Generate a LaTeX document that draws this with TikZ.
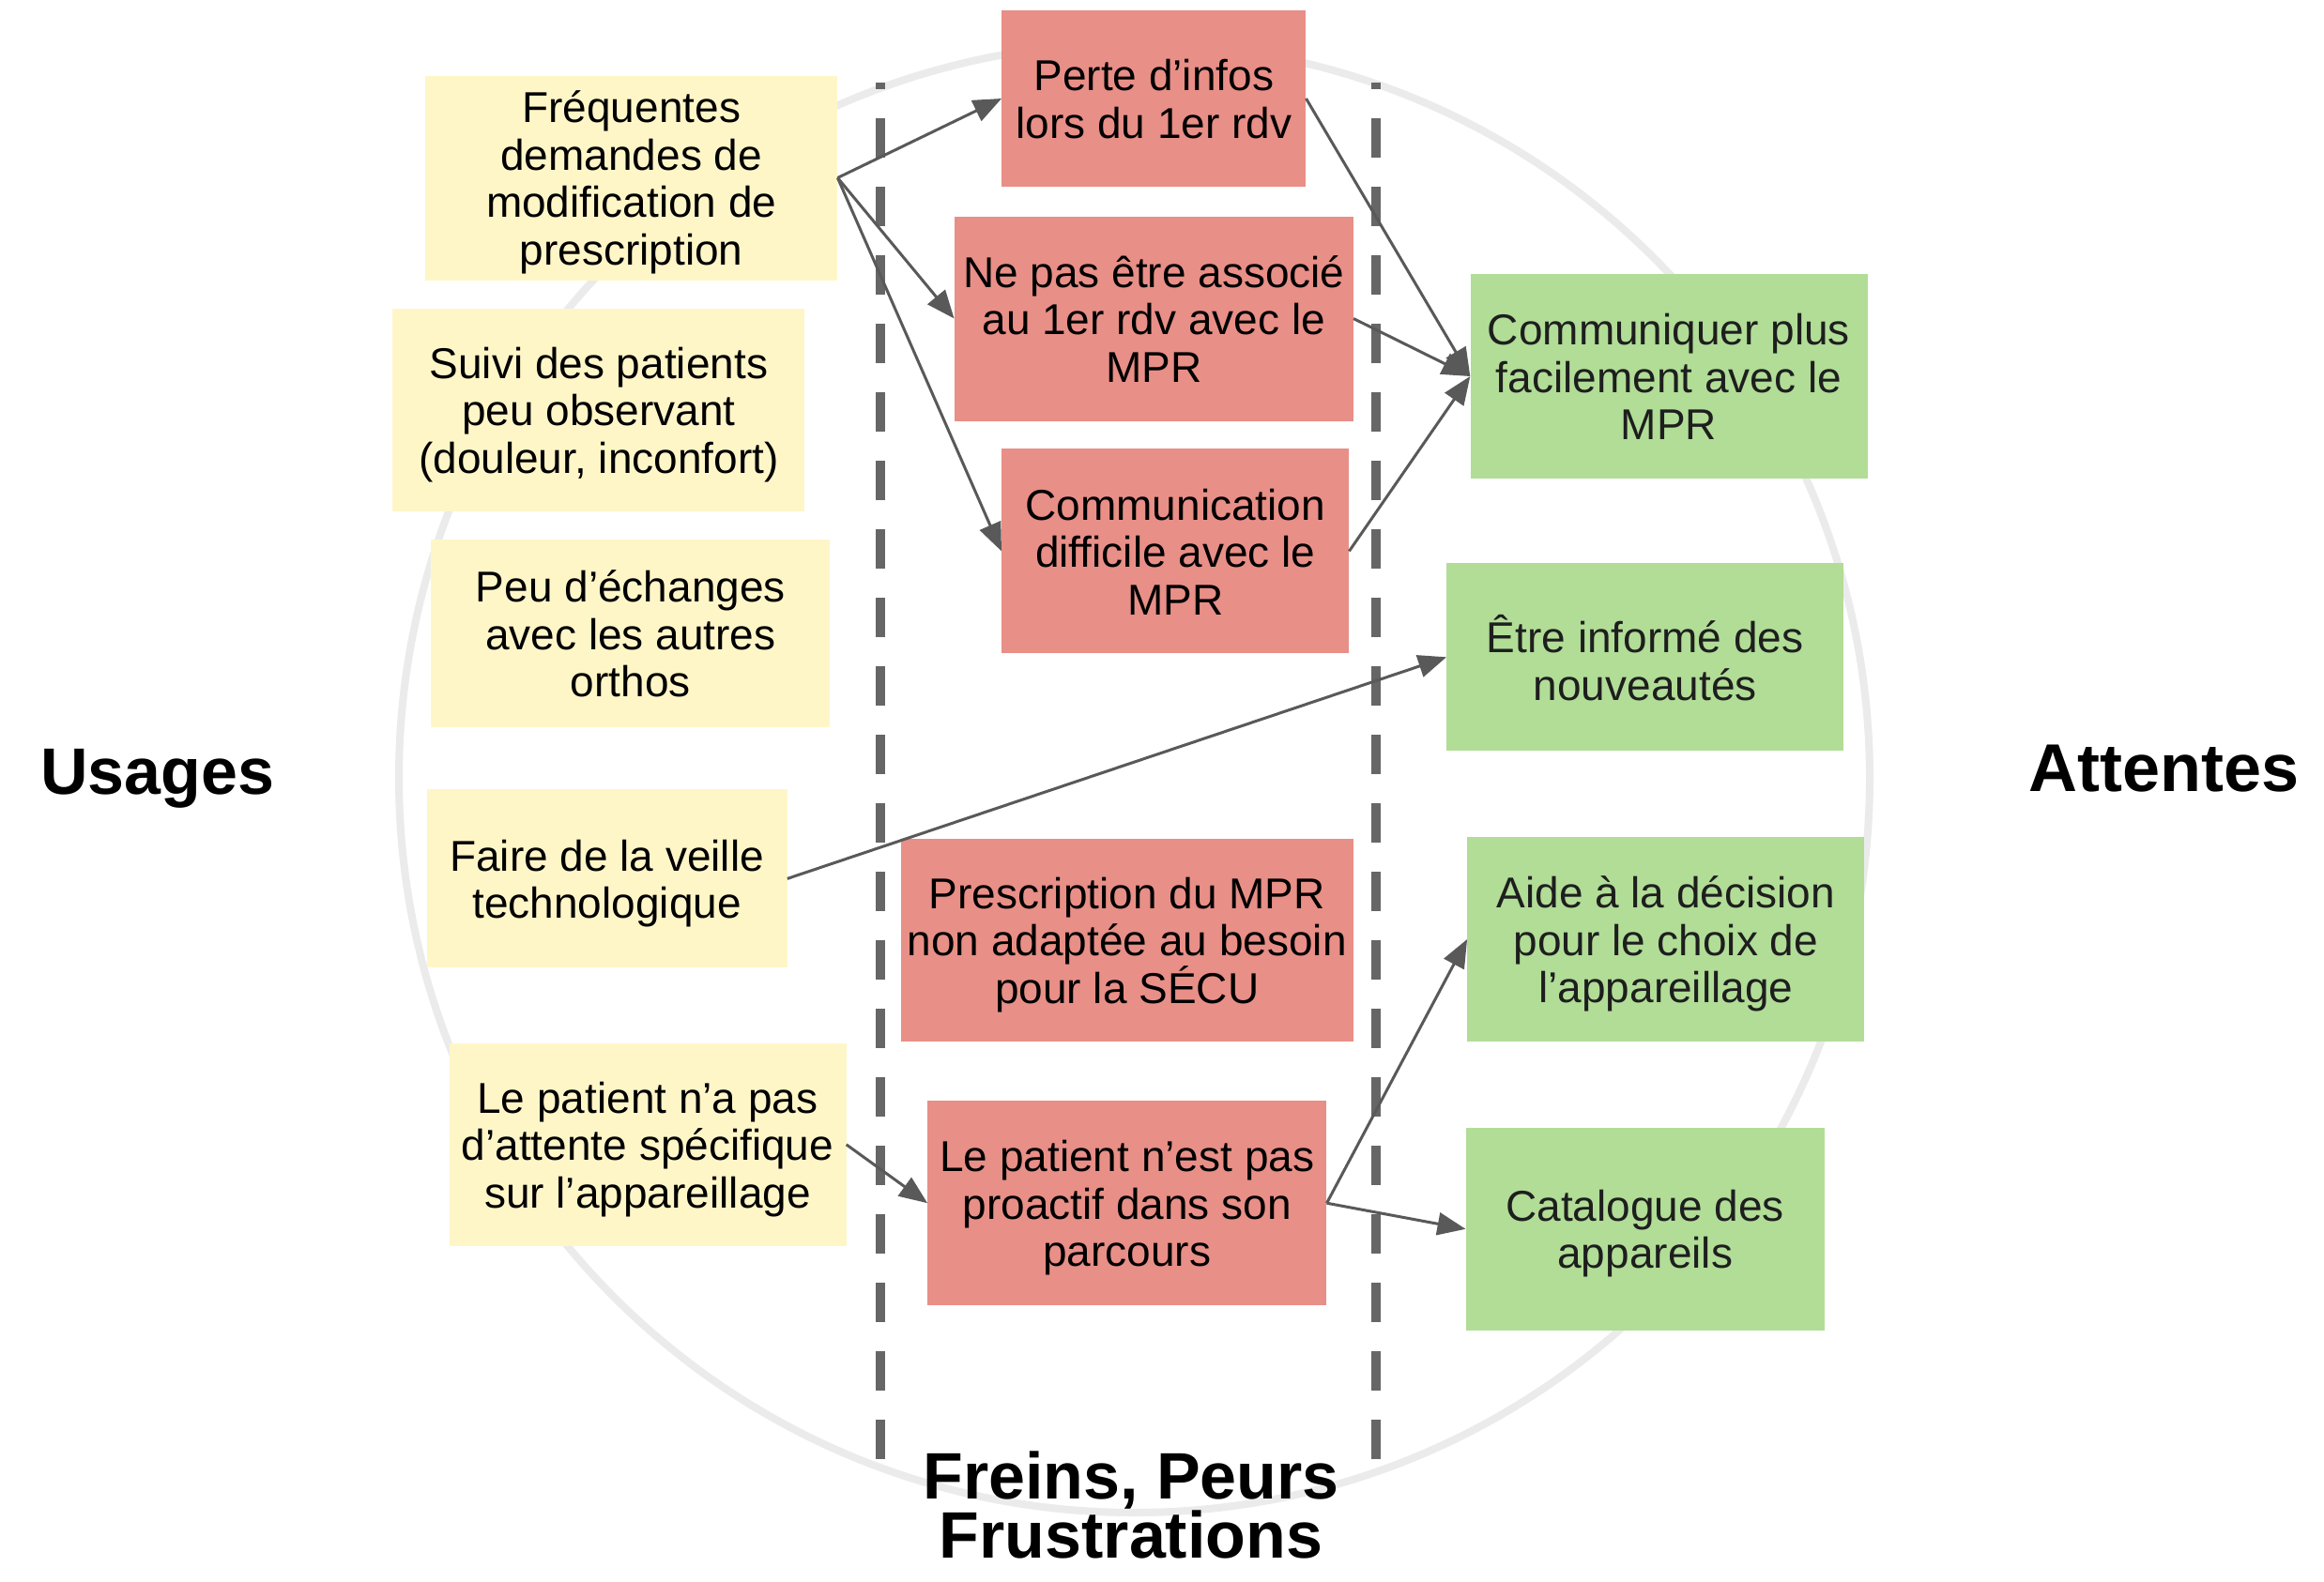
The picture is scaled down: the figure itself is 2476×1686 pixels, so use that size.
\documentclass[tikz,border=0pt]{standalone}
\usepackage{fontspec}
\setmainfont{Liberation Sans}
\usetikzlibrary{arrows.meta}
\definecolor{ybg}{HTML}{FFF6C8}
\definecolor{rbg}{HTML}{E88F87}
\definecolor{gbg}{HTML}{B1DD97}
\definecolor{gtext}{HTML}{1E1E1E}
\definecolor{arrowc}{HTML}{595959}
\definecolor{sepc}{HTML}{666666}
\definecolor{ringc}{HTML}{EBEBEB}
\newcommand{\topstrut}{\vrule width 0pt height 50.5pt depth 0pt}
\newcommand{\botstrut}{\vrule width 0pt height 0pt depth 9pt}
% #1 kind, #2 name, #3 x, #4 y, #5 width, #6 height, #7 text
\newcommand{\mkcard}[7]{%
  \node[#1, minimum width=#5pt, minimum height=#6pt] (#2) at (#3,#4) {};
  \node[#1 text] (#2t) at ([yshift=-5pt]#2.center) {#7};}
\begin{document}
\begin{tikzpicture}[x=1pt,y=-1pt,
  cardtext/.style={inner sep=0pt, align=center, font=\fontsize{46}{50.5}\selectfont,
    execute at begin node={\topstrut}, execute at end node={\botstrut}},
  usage/.style={rectangle, inner sep=0pt, fill=ybg},
  frein/.style={rectangle, inner sep=0pt, fill=rbg},
  attente/.style={rectangle, inner sep=0pt, fill=gbg},
  usage text/.style={cardtext},
  frein text/.style={cardtext},
  attente text/.style={cardtext, text=gtext},
  link/.style={draw=arrowc, line width=3pt, -{Triangle[length=30pt,width=24pt]}},
  sep/.style={draw=sepc, line width=10pt, dash pattern=on 42pt off 31pt, dash phase=35pt},
  ring/.style={draw=ringc, line width=8pt},
  heading/.style={font=\fontsize{70}{60}\selectfont\bfseries, inner sep=0pt, anchor=base}]
\useasboundingbox (0,0) rectangle (2476,1686);
\fill[white] (0,0) rectangle (2476,1686);
% ring
\draw[ring] (1208.5,829) ellipse [x radius=783.5, y radius=783];
% separators
\draw[sep] (938,88) -- (938,1556);
\draw[sep] (1466,88) -- (1466,1556);
% usages
\mkcard{usage}{u1}{672.7}{189.5}{439}{218}{Fréquentes\\demandes de\\modification de\\prescription}
\mkcard{usage}{u2}{637.9}{436.6}{439}{216}{Suivi des patients\\peu observant\\(douleur, inconfort)}
\mkcard{usage}{u3}{671.9}{675}{425}{200}{Peu d’échanges\\avec les autres\\orthos}
\mkcard{usage}{u4}{646.6}{936.4}{384}{190}{Faire de la veille\\technologique}
\mkcard{usage}{u5}{690}{1219.8}{423}{216}{Le patient n’a pas\\d’attente spécifique\\sur l’appareillage}
% freins
\mkcard{frein}{f1}{1229.3}{105}{324}{188}{Perte d’infos\\lors du 1er rdv}
\mkcard{frein}{f2}{1229.3}{339.5}{425}{218}{Ne pas être associé\\au 1er rdv avec le\\MPR}
\mkcard{frein}{f3}{1252.2}{587.4}{370}{218}{Communication\\difficile avec le\\MPR}
\mkcard{frein}{f4}{1200.8}{1001.9}{482}{216}{Prescription du MPR\\non adaptée au besoin\\pour la SÉCU}
\mkcard{frein}{f5}{1200.8}{1282.2}{425}{218}{Le patient n’est pas\\proactif dans son\\parcours}
% attentes
\mkcard{attente}{a1}{1778}{401}{423}{218}{Communiquer plus\\facilement avec le\\MPR}
\mkcard{attente}{a2}{1752.7}{700.3}{423}{200}{Être informé des\\nouveautés}
\mkcard{attente}{a3}{1774.8}{1001}{423}{218}{Aide à la décision\\pour le choix de\\l’appareillage}
\mkcard{attente}{a4}{1752.7}{1309.8}{382}{216}{Catalogue des\\appareils}
% headings
\node[heading, anchor=base west] (husages) at (43,846) {Usages};
\node[heading, anchor=base east, font=\fontsize{72}{60}\selectfont\bfseries] (hattentes) at (2450,843) {Attentes};
\node[heading, anchor=north, align=center] (hfreins) at (1205,1547) {Freins, Peurs\\Frustrations};
% links
\draw[link] (u1.east) -- (f1.west);
\draw[link] (u1.east) -- (f2.west);
\draw[link] (u1.east) -- (f3.west);
\draw[link] (f1.east) -- (a1.west);
\draw[link] (f2.east) -- (a1.west);
\draw[link] (f3.east) -- (a1.west);
\draw[link] (u4.east) -- (a2.west);
\draw[link] (u5.east) -- (f5.west);
\draw[link] (f5.east) -- (a3.west);
\draw[link] (f5.east) -- (a4.west);
\end{tikzpicture}
\end{document}
